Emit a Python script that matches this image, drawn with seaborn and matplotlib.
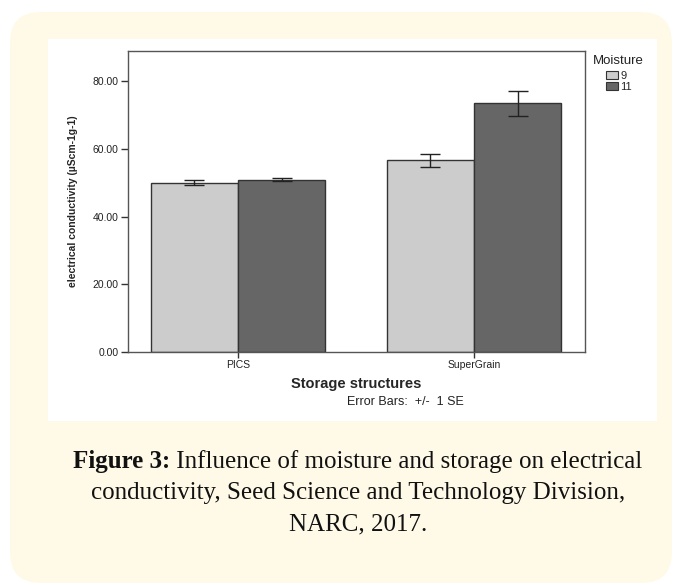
import matplotlib
matplotlib.use('Agg')
import matplotlib.pyplot as plt
import numpy as np
import pandas as pd
import seaborn as sns
from matplotlib.patches import FancyBboxPatch, Rectangle

# data
structures = ['PICS', 'PICS', 'SuperGrain', 'SuperGrain']
moisture = ['9', '11', '9', '11']
conductivity = [50.0, 51.0, 56.7, 73.6]
std_err = [0.75, 0.5, 1.9, 3.7]
yticks = [0, 20, 40, 60, 80]

df = pd.DataFrame({'Storage structures': structures,
                   'Moisture': moisture,
                   'ec': conductivity,
                   'se': std_err})

sns.set_style('white')
plt.rcParams['font.family'] = ['Liberation Sans', 'DejaVu Sans']

fig = plt.figure(figsize=(6.78, 5.85), dpi=100)
fig.patch.set_facecolor('white')

# cream card + white chart panel behind the axes
fig.patches.append(FancyBboxPatch((10 / 678, 2 / 585), 662 / 678, 571 / 585,
                                  boxstyle='round,pad=0,rounding_size=0.045',
                                  transform=fig.transFigure, facecolor='#fffae8',
                                  edgecolor='none', zorder=-2, mutation_aspect=678 / 585))
fig.patches.append(Rectangle((48 / 678, 1 - 421 / 585), 609 / 678, 382 / 585,
                             transform=fig.transFigure, facecolor='white',
                             edgecolor='none', zorder=-1))

ax = fig.add_axes([128 / 678, 1 - 352 / 585, 457 / 678, 301 / 585])
ax.set_facecolor('white')

sns.barplot(data=df, x='Storage structures', y='ec', hue='Moisture',
            order=['PICS', 'SuperGrain'], hue_order=['9', '11'],
            palette=['#cccccc', '#666666'], errorbar=None, width=0.74,
            edgecolor='#333333', linewidth=1.0, saturation=1, ax=ax)

# error bars (+/- 1 SE) at bar centers
for cont, lvl in zip(ax.containers, ['9', '11']):
    sub = df[df['Moisture'] == lvl]
    xs = [p.get_x() + p.get_width() / 2 for p in cont.patches]
    ax.errorbar(xs, sub['ec'].values, yerr=sub['se'].values, fmt='none',
                ecolor='#222222', elinewidth=1.0, capsize=7.5, capthick=1.0, zorder=5)

ax.set_xlim(-0.466, 1.47)
ax.set_ylim(0, 89)
ax.set_yticks(yticks)
ax.set_yticklabels([f'{v:.2f}' for v in yticks])
ax.tick_params(axis='both', direction='out', length=5, width=1, color='#333333',
               labelsize=7.5, pad=2, labelcolor='#222222', bottom=True, left=True)
ax.tick_params(axis='x', length=4, pad=2)
for sp in ax.spines.values():
    sp.set_visible(True)
    sp.set_color('#555555')
    sp.set_linewidth(1.0)

ax.set_xlabel('Storage structures', fontsize=10.5, fontweight='bold', labelpad=5)
ax.set_ylabel('electrical conductivity (µScm-1g-1)', fontsize=7.5,
              fontweight='bold', labelpad=10)

fig.text(405 / 678, 1 - 402 / 585, 'Error Bars:  +/-  1 SE', fontsize=9,
         ha='center', va='center', color='#222222')

# legend: title on its own, swatches indented underneath
handles, labels = ax.get_legend_handles_labels()
if ax.get_legend():
    ax.get_legend().remove()
fig.text(593 / 678, 1 - 61 / 585, 'Moisture', fontsize=9.5, va='center',
         ha='left', color='#222222')
leg = fig.legend(handles, labels, loc='upper left',
                 bbox_to_anchor=(606 / 678, 1 - 71 / 585),
                 frameon=False, fontsize=8, handlelength=1.1,
                 handleheight=0.7, handletextpad=0.2, labelspacing=0.05,
                 borderpad=0, borderaxespad=0)
for h in leg.legend_handles:
    h.set_edgecolor('#333333')
    h.set_linewidth(0.8)

# caption: bold "Figure 3:" followed by regular text, line centred at x=358px
caption_font = ['Liberation Serif', 'DejaVu Serif']
cap_size = 18
cx = 358
renderer = fig.canvas.get_renderer()
y1 = 1 - 468 / 585
bold = fig.text(0, y1, 'Figure 3:', fontsize=cap_size, fontweight='bold',
                va='baseline', family=caption_font, color='#111111')
rest = fig.text(0, y1, ' Influence of moisture and storage on electrical',
                fontsize=cap_size, va='baseline', family=caption_font, color='#111111')
wb = bold.get_window_extent(renderer).width
wr = rest.get_window_extent(renderer).width
x0 = cx - (wb + wr) / 2
bold.set_x(x0 / 678)
rest.set_x((x0 + wb) / 678)
fig.text(cx / 678, 1 - 499 / 585,
         'conductivity, Seed Science and Technology Division,',
         fontsize=cap_size, ha='center', va='baseline', family=caption_font,
         color='#111111')
fig.text(cx / 678, 1 - 530 / 585, 'NARC, 2017.',
         fontsize=cap_size, ha='center', va='baseline', family=caption_font,
         color='#111111')

fig.savefig('out.png', dpi=100, facecolor=fig.get_facecolor())
